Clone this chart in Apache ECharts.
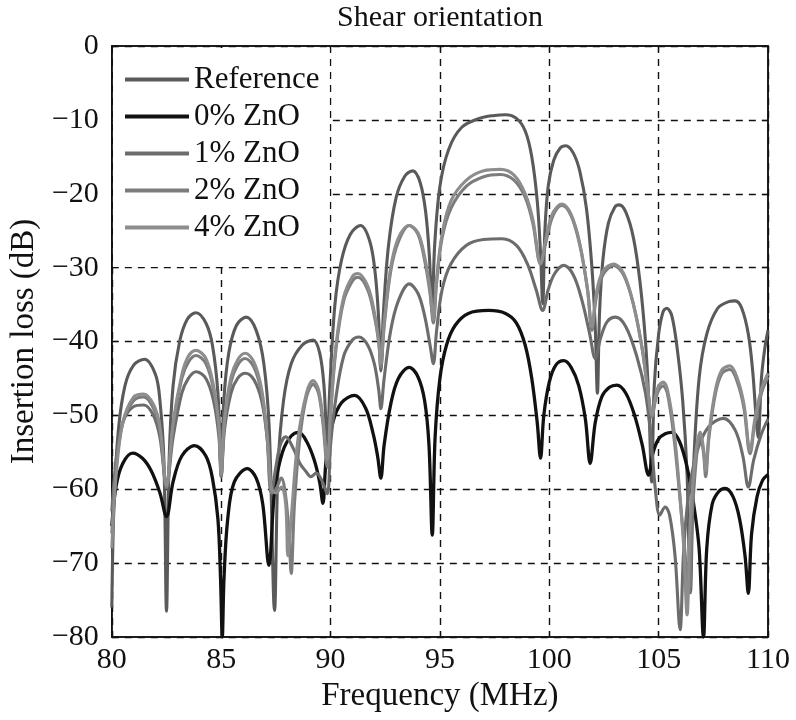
<!DOCTYPE html>
<html>
<head>
<meta charset="utf-8">
<script src="https://cdn.jsdelivr.net/npm/echarts@6/dist/echarts.min.js"></script>
<style>html,body{margin:0;padding:0;background:#fff;}#chart{width:796px;height:720px;}</style>
</head>
<body>
<div id="chart"></div>
<script>
const titleText = 'Shear orientation';
const xName = 'Frequency (MHz)';
const yName = 'Insertion loss (dB)';
const seriesNames = ['Reference', '0% ZnO', '1% ZnO', '2% ZnO', '4% ZnO'];

const refFreq = [80.0,80.1,80.3,80.6,81.0,81.5,82.0,82.2,82.38,82.5,82.62,82.8,83.1,83.45,83.85,84.3,84.6,84.85,85.0,85.12,85.35,85.7,86.15,86.6,86.95,87.2,87.44,87.6,87.85,88.2,88.7,89.2,89.5,89.7,89.85,89.97,90.2,90.5,90.9,91.37,91.8,92.05,92.2,92.3,92.42,92.65,93.0,93.4,93.76,94.1,94.35,94.52,94.64,94.76,95.0,95.4,96.0,96.8,97.5,98.0,98.5,98.9,99.2,99.45,99.6,99.7,99.8,99.95,100.2,100.5,100.76,101.1,101.4,101.7,101.95,102.1,102.2,102.3,102.45,102.7,103.0,103.2,103.5,103.85,104.15,104.4,104.55,104.68,104.8,105.0,105.2,105.37,105.6,105.85,106.1,106.3,106.45,106.6,106.85,107.2,107.7,108.2,108.5,108.8,109.1,109.3,109.45,109.55,109.7,109.85,110.0];
const refLoss = [-76,-62,-52,-46,-43.2,-42.4,-44.5,-48,-56,-76.5,-56,-46,-40,-37,-36.1,-37.5,-40.5,-47,-57.5,-48,-41.5,-37.8,-36.7,-38.5,-43,-52,-76.4,-57,-48,-43,-40.5,-39.8,-41.5,-46,-54.3,-46,-35,-29,-25.5,-24.3,-26.5,-31,-37,-44,-36,-27,-20.5,-17.6,-16.9,-18.5,-22.5,-28.5,-36,-27,-19,-14,-11,-9.8,-9.4,-9.3,-9.8,-11.5,-15,-21,-28,-34.9,-25,-19,-15.5,-13.8,-13.5,-14.5,-17,-22,-30,-38,-47,-36,-29,-24,-21.8,-21.5,-22.5,-26,-32,-40,-48,-59,-46,-39,-36,-35.5,-36.5,-41,-48,-58,-74,-57,-45,-39,-35.5,-34.6,-34.5,-35.5,-39,-44,-50,-53,-45,-41,-38.5];

const zno0Freq = [80.0,80.2,80.5,80.95,81.4,81.8,82.2,82.5,82.8,83.2,83.78,84.3,84.6,84.85,84.97,85.05,85.13,85.3,85.6,86.2,86.6,86.9,87.18,87.45,87.8,88.2,88.55,88.9,89.25,89.5,89.65,89.8,90.1,90.5,91.1,91.6,91.95,92.15,92.3,92.45,92.75,93.1,93.6,94.0,94.3,94.5,94.65,94.78,95.0,95.3,95.7,96.3,97.23,98.0,98.5,98.9,99.2,99.45,99.6,99.75,100.0,100.3,100.66,101.0,101.35,101.65,101.87,102.1,102.4,102.75,103.09,103.5,103.9,104.25,104.54,104.75,105.0,105.3,105.6,105.95,106.3,106.6,106.85,107.05,107.2,107.45,107.75,108.04,108.4,108.7,108.95,109.1,109.25,109.5,109.75,110.0];
const zno0Loss = [-65,-59.5,-56.5,-55.1,-55.8,-57.5,-60.5,-63.7,-59,-55.5,-54.1,-55.5,-58.5,-64,-72,-80,-72,-64,-59,-57.2,-58.5,-62,-70.3,-60,-55,-52.8,-52.3,-53.5,-56,-59,-61.9,-56,-51,-48.3,-47.3,-49,-52.5,-55.5,-58.5,-54,-48.5,-45,-43.5,-44.8,-48,-54,-66.2,-53,-45,-40.5,-37.8,-36.2,-35.8,-36.2,-37.5,-40.5,-45,-51,-55.8,-50,-45.5,-43.2,-42.6,-43.5,-46,-50.5,-56.5,-51,-47.5,-46.2,-45.9,-47,-50,-54,-58.1,-55,-53.2,-52.5,-52.3,-53.5,-57,-62,-68,-80,-68,-62,-60.3,-59.9,-61,-64,-69,-74.1,-66,-61,-58.8,-58];

const zno1Freq = [80.0,80.2,80.5,81.0,81.46,81.9,82.2,82.5,82.8,83.2,83.5,83.85,84.3,84.65,84.9,85.0,85.15,85.45,85.75,86.1,86.5,86.85,87.1,87.3,87.5,87.7,87.95,88.3,88.6,88.85,89.1,89.35,89.6,89.85,90.0,90.25,90.6,91.0,91.3,91.7,92.0,92.2,92.3,92.45,92.75,93.1,93.6,94.0,94.3,94.55,94.7,94.85,95.1,95.5,96.2,97.0,97.84,98.5,99.0,99.4,99.7,99.95,100.25,100.66,101.1,101.5,101.85,102.1,102.35,102.65,103.04,103.5,104.0,104.4,104.65,104.85,105.05,105.3,105.5,105.75,105.98,106.15,106.4,106.8,107.3,107.96,108.5,108.85,109.1,109.35,109.7,110.0];
const zno1Loss = [-63,-56,-51,-48.8,-48.6,-50,-53,-59.5,-53,-47,-45,-44.1,-45,-48,-53,-58.3,-52,-47,-45,-44.3,-45.2,-48,-53,-60.5,-57,-54,-52.9,-54.5,-56.5,-57.5,-58.3,-57.8,-58.8,-60.6,-54,-47.5,-42,-39.8,-39.4,-40.5,-43,-46.5,-49.1,-45,-38.5,-34.5,-32.2,-33.5,-36.5,-40.5,-43,-38.5,-33,-29.5,-27,-26.2,-26.1,-27,-29.5,-33,-35.8,-33,-30.8,-29.7,-31,-34.5,-39,-42.3,-39.5,-37.3,-36.7,-38,-42,-47,-53,-60,-63.5,-62.4,-63.5,-69,-79,-68,-60,-54.5,-51.5,-50.4,-52,-55.5,-59.7,-56,-52.5,-50.5];

const zno2Freq = [80.0,80.2,80.5,81.0,81.46,81.9,82.2,82.5,82.8,83.2,83.5,83.85,84.3,84.65,84.9,85.0,85.15,85.45,85.75,86.1,86.5,86.85,87.1,87.3,87.5,87.75,87.95,88.1,88.2,88.35,88.6,88.9,89.2,89.45,89.65,89.85,90.0,90.25,90.6,91.0,91.25,91.7,92.0,92.2,92.3,92.45,92.75,93.1,93.6,94.0,94.3,94.55,94.7,94.85,95.1,95.5,96.2,97.0,97.76,98.4,98.9,99.25,99.6,99.85,100.1,100.35,100.58,101.0,101.4,101.75,101.95,102.15,102.45,102.94,103.4,103.85,104.25,104.5,104.7,104.85,105.0,105.2,105.4,105.7,106.0,106.25,106.4,106.55,106.75,106.9,107.05,107.15,107.3,107.6,107.9,108.26,108.6,108.9,109.18,109.4,109.7,110.0];
const zno2Loss = [-66,-57,-51,-48,-47.5,-49,-52,-59.8,-51.5,-45,-42.8,-41.9,-43,-46.5,-52,-58.3,-51,-45.5,-43.2,-42.3,-43.5,-47,-53,-60.5,-60,-58.5,-61,-66,-71.4,-62,-53,-47.5,-45.8,-47,-51,-57,-50,-41,-34.5,-31.8,-31.3,-33,-36.5,-40,-43.5,-38,-30.5,-26.5,-24.3,-25.5,-29,-33.5,-37.5,-32,-26,-22,-19,-17.7,-17.4,-18.2,-20.5,-24,-29.5,-26.5,-23.5,-22,-21.6,-23,-27,-33,-38.5,-34,-31,-29.7,-31,-35,-41,-46.5,-50.2,-48,-46.6,-46,-47,-53,-62,-70,-74,-63,-55,-52.8,-55,-58.3,-53,-47,-44.3,-43.8,-45.5,-49,-55.2,-51,-47,-44.8];

const zno4Freq = [80.0,80.2,80.5,81.0,81.46,81.9,82.2,82.5,82.8,83.2,83.5,83.85,84.3,84.65,84.9,85.0,85.15,85.45,85.75,86.1,86.5,86.85,87.1,87.3,87.5,87.75,87.95,88.05,88.2,88.5,88.9,89.2,89.45,89.65,89.85,90.0,90.25,90.6,91.0,91.25,91.7,92.0,92.2,92.3,92.45,92.75,93.1,93.6,94.0,94.3,94.55,94.7,94.85,95.1,95.5,96.2,97.0,97.76,98.4,98.9,99.25,99.6,99.85,100.1,100.35,100.58,101.0,101.4,101.75,101.95,102.15,102.45,102.94,103.4,103.85,104.25,104.5,104.7,104.85,105.0,105.2,105.4,105.7,105.95,106.15,106.3,106.45,106.7,106.9,107.05,107.15,107.3,107.6,107.9,108.26,108.6,108.9,109.18,109.4,109.7,110.0];
const zno4Loss = [-68,-58,-51,-47.5,-47.1,-48.5,-51.5,-59.5,-51,-44.5,-42,-41.2,-42.3,-46,-51.5,-58,-50.5,-44.8,-42.5,-41.6,-42.8,-46.5,-52.5,-60,-60.5,-59.7,-62,-69,-64,-53.5,-47,-45.3,-46.5,-50.5,-56,-49.5,-40.5,-34,-31.2,-30.8,-32.5,-36,-40,-43,-37.5,-30,-26,-24.3,-25.3,-28.5,-33,-37,-31.5,-25.5,-21,-18.2,-16.9,-16.7,-17.5,-20,-23.5,-29.5,-26,-23,-21.8,-21.4,-22.8,-26.8,-33,-38,-33.5,-30.5,-29.5,-30.8,-35,-41,-46.5,-50,-47.5,-46,-45.5,-46.5,-52,-60,-68,-77,-64,-55,-52.3,-54.5,-57.5,-52.5,-46.5,-43.8,-43.3,-45,-48.5,-54.8,-50.5,-46.5,-44.3];

const xTicks = [80, 85, 90, 95, 100, 105, 110];
const yTicks = [0, -10, -20, -30, -40, -50, -60, -70, -80];

const colors = ['#5a5a5a', '#111111', '#6c6c6c', '#7c7c7c', '#8d8d8d'];
const FONT = "'Liberation Serif', 'Times New Roman', serif";

function zip(f, v) { return f.map((x, i) => [x, v[i]]); }
const allData = [zip(refFreq, refLoss), zip(zno0Freq, zno0Loss), zip(zno1Freq, zno1Loss), zip(zno2Freq, zno2Loss), zip(zno4Freq, zno4Loss)];

const chart = echarts.init(document.getElementById('chart'), null, { renderer: 'canvas' });
const gridLine = { show: true, lineStyle: { color: '#111', type: [7, 6], width: 1.4 } };
const tickStyle = { show: true, inside: true, length: 6, lineStyle: { color: '#111', width: 1.2 } };
chart.setOption({
  animation: false,
  backgroundColor: '#fff',
  title: {
    text: titleText, left: 435, top: -2, textAlign: 'center',
    textStyle: { fontFamily: FONT, fontSize: 30, fontWeight: 'normal', color: '#111' }
  },
  grid: { left: 111, right: 28, top: 46, bottom: 83, show: true, borderColor: '#111', borderWidth: 1.5, backgroundColor: 'transparent' },
  legend: {
    data: seriesNames, orient: 'vertical', left: 113, top: 48,
    padding: [16, 10, 24, 12], itemGap: 6, itemWidth: 64, itemHeight: 4, icon: 'rect',
    backgroundColor: '#fff',
    textStyle: { fontFamily: FONT, fontSize: 31, color: '#111', lineHeight: 30 },
    z: 5
  },
  xAxis: [{
    type: 'value', min: 80, max: 110, interval: 5, name: xName, nameLocation: 'middle', nameGap: 39,
    nameTextStyle: { fontFamily: FONT, fontSize: 33, color: '#111' },
    axisLine: { show: true, onZero: false, lineStyle: { color: '#111', width: 1.5 } },
    axisTick: tickStyle,
    axisLabel: { fontFamily: FONT, fontSize: 30, color: '#111', margin: 8, formatter: v => xTicks.includes(v) ? String(v) : '' },
    splitLine: gridLine
  }, {
    type: 'value', min: 80, max: 110, interval: 5, position: 'top',
    axisLine: { show: true, lineStyle: { color: '#111', width: 1.5 } },
    axisTick: tickStyle, axisLabel: { show: false }, splitLine: { show: false }
  }],
  yAxis: [{
    type: 'value', min: -80, max: 0, interval: 10, name: yName, nameLocation: 'middle', nameGap: 70, nameRotate: 90,
    nameTextStyle: { fontFamily: FONT, fontSize: 33, color: '#111' },
    axisLine: { show: true, onZero: false, lineStyle: { color: '#111', width: 1.5 } },
    axisTick: tickStyle,
    axisLabel: { fontFamily: FONT, fontSize: 30, color: '#111', margin: 13, formatter: v => yTicks.includes(v) ? String(v).replace('-', '\u2212') : '' },
    splitLine: gridLine
  }, {
    type: 'value', min: -80, max: 0, interval: 10, position: 'right',
    axisLine: { show: true, lineStyle: { color: '#111', width: 1.5 } },
    axisTick: tickStyle, axisLabel: { show: false }, splitLine: { show: false }
  }],
  series: seriesNames.map((name, i) => ({
    name, type: 'line', data: allData[i], symbol: 'none', smooth: 0.35,
    clip: true, color: colors[i],
    lineStyle: { color: colors[i], width: i === 1 ? 3.3 : 3.1 }
  }))
});
</script>
</body>
</html>
